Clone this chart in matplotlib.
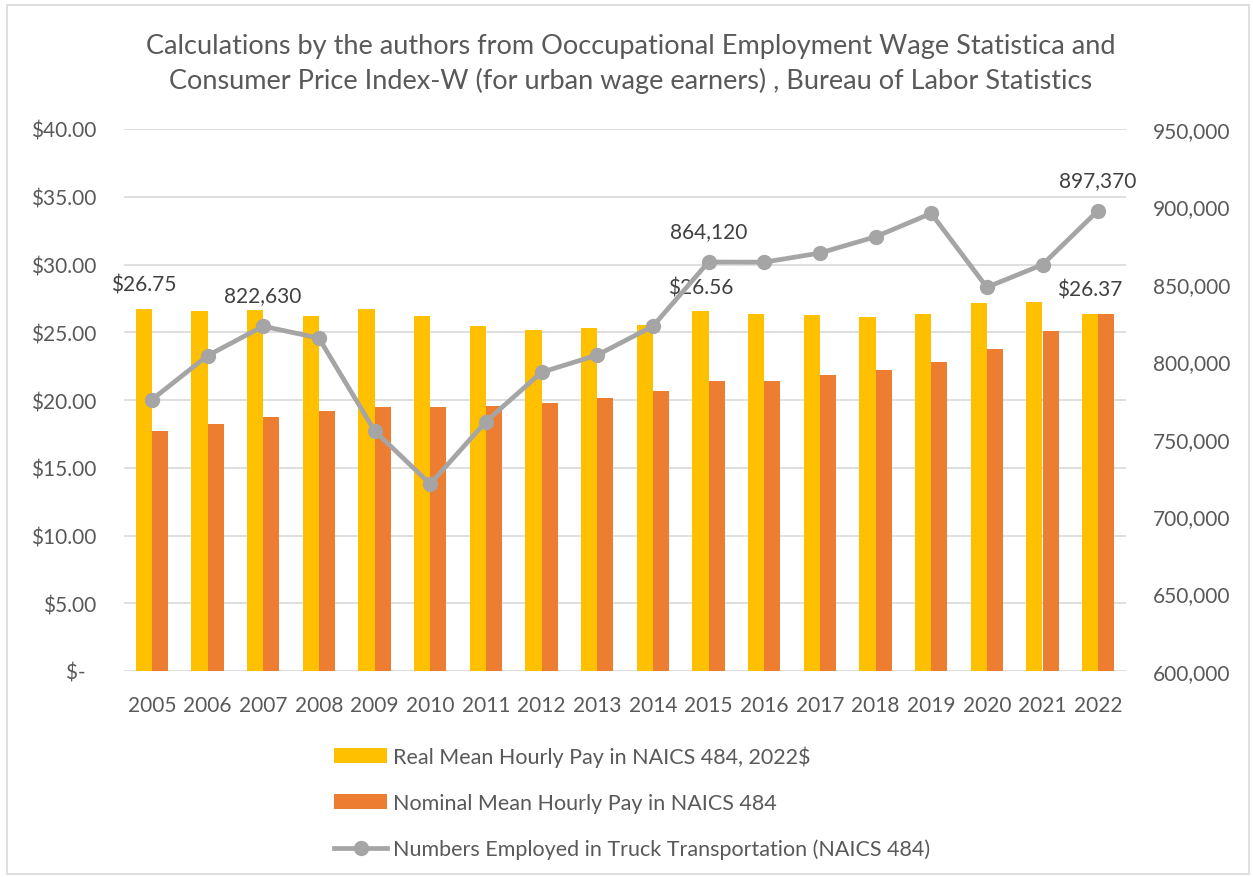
import matplotlib.pyplot as plt
import numpy as np
from matplotlib.patches import Rectangle
from matplotlib.ticker import FuncFormatter

plt.rcParams['font.family'] = ['Lato', 'DejaVu Sans']

# Data
years = ['2005', '2006', '2007', '2008', '2009', '2010', '2011', '2012', '2013',
         '2014', '2015', '2016', '2017', '2018', '2019', '2020', '2021', '2022']
real_pay = [26.75, 26.60, 26.65, 26.23, 26.70, 26.18, 25.47, 25.20, 25.32,
            25.54, 26.56, 26.33, 26.28, 26.13, 26.35, 27.14, 27.24, 26.37]
nominal_pay = [17.74, 18.21, 18.75, 19.22, 19.47, 19.47, 19.56, 19.78, 20.18,
               20.65, 21.41, 21.41, 21.83, 22.24, 22.81, 23.77, 25.12, 26.37]
employed = [775200, 803600, 822630, 815000, 755200, 720750, 761000, 792900, 804000,
            822600, 864120, 864000, 869900, 880400, 895500, 847800, 862400, 897370]

real_labels = {'2005': '$26.75', '2015': '$26.56', '2022': '$26.37'}
emp_labels = {'2007': '822,630', '2015': '864,120', '2022': '897,370'}

txt = '#595959'
x = np.arange(len(years))
w = 0.29

fig = plt.figure(figsize=(12.53, 8.78), dpi=100)
fig.patches.append(Rectangle((7 / 1253, 3 / 878), 1242 / 1253, 869 / 878,
                             transform=fig.transFigure, fill=False,
                             edgecolor='#D9D9D9', linewidth=1.2))
ax = fig.add_axes([124 / 1253, 1 - 672 / 878, 1002 / 1253, 542 / 878])
ax2 = ax.twinx()

b1 = ax.bar(x - w / 2, real_pay, w, color='#FFC000', label='Real Mean Hourly Pay in NAICS 484, 2022$', zorder=2)
b2 = ax.bar(x + w / 2, nominal_pay, w, color='#ED7D31', label='Nominal Mean Hourly Pay in NAICS 484', zorder=2)
ln, = ax2.plot(x, employed, color='#A5A5A5', linewidth=3.4, marker='o', markersize=10,
               label='Numbers Employed in Truck Transportation (NAICS 484)')

ax.set_xlim(-0.5, len(years) - 0.5)
ax.set_ylim(0, 40)
ax.set_yticks(np.arange(0, 41, 5))
ax.yaxis.set_major_formatter(FuncFormatter(lambda v, p: '$-  ' if v == 0 else f'${v:.2f}'))
ax2.set_ylim(600000, 950000)
ax2.set_yticks(np.arange(600000, 950001, 50000))
ax2.yaxis.set_major_formatter(FuncFormatter(lambda v, p: f'{int(v):,}'))

ax.set_xticks(x)
ax.set_xticklabels(years)
ax.grid(axis='y', color='#D9D9D9', linewidth=1.2, zorder=0)
ax.set_axisbelow(True)
for a in (ax, ax2):
    for s in a.spines.values():
        s.set_visible(False)
    a.tick_params(length=0, labelsize=15, colors=txt)
ax.tick_params(axis='y', pad=20)
ax.tick_params(axis='x', pad=17)
ax2.tick_params(axis='y', pad=19.5)

for i, yr in enumerate(years):
    if yr in real_labels:
        ax.annotate(real_labels[yr], (x[i] - w / 2, real_pay[i]), xytext=(0, 10),
                    textcoords='offset points', ha='center', va='bottom', fontsize=15, color='#404040')
    if yr in emp_labels:
        ax2.annotate(emp_labels[yr], (x[i], employed[i]), xytext=(0, 15),
                     textcoords='offset points', ha='center', va='bottom', fontsize=15, color='#404040')

fig.text(0.503, 1 - 64 / 878,
         'Calculations by the authors from Ooccupational Employment Wage Statistica and\n'
         'Consumer Price Index-W (for urban wage earners) , Bureau of Labor Statistics',
         ha='center', va='center', fontsize=19.5, color=txt, linespacing=1.42)

fig.legend(handles=[b1, b2, ln], loc='upper left', bbox_to_anchor=(325 / 1253, 1 - 738 / 878),
           frameon=False, fontsize=15.5, labelcolor=txt, handlelength=2.5, handletextpad=0.25,
           labelspacing=1.2, borderaxespad=0)

fig.savefig('out.png', dpi=100)
